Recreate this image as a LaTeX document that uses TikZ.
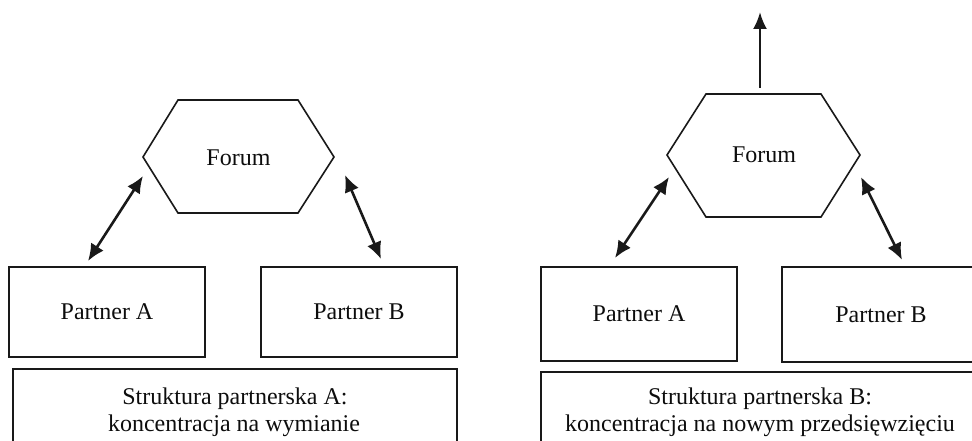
\documentclass[tikz,border=0pt]{standalone}
\usepackage{fontspec}
\setmainfont{Liberation Serif}
\usetikzlibrary{arrows.meta}
\begin{document}
\begin{tikzpicture}[x=1pt,y=-1pt,
  every node/.style={font=\fontsize{24}{27}\selectfont, text=black!95},
  partnerbox/.style={draw=black!90, line width=1.8pt, inner sep=0pt},
  shapeline/.style={draw=black!90, line width=1.6pt},
  link/.style={line width=2.6pt, draw=black!90, {Latex[length=17pt,width=15pt]}-{Latex[length=17pt,width=15pt]}},
  uplink/.style={line width=2.6pt, draw=black!90, -{Latex[length=17pt,width=14pt]}},
  lbl/.style={anchor=base, inner sep=0pt}]
\useasboundingbox (0,0) rectangle (972,441);

% ---------- left panel ----------
\draw[shapeline] (143,157) -- (178,100) -- (298,100) -- (334,157) -- (298,213) -- (178,213) -- cycle;
\node[lbl] (forumL) at (238.5,166) {Forum};
\node[partnerbox, minimum width=196pt, minimum height=90pt] (paL) at (107,312) {Partner A};
\node[partnerbox, minimum width=196pt, minimum height=90pt] (pbL) at (359,312) {Partner B};
\draw[line width=1.8pt, draw=black!90] (13,460) -- (13,369) -- (457,369) -- (457,460);
\node[lbl] (strL1) at (235,404) {Struktura partnerska A:};
\node[lbl] (strL2) at (234,431) {koncentracja na wymianie};

\coordinate (fLl) at (143,176);
\coordinate (aLl) at (88,261);
\coordinate (fLr) at (345,175);
\coordinate (bLr) at (381,259);
\draw[link] (aLl) -- (fLl);
\draw[link] (fLr) -- (bLr);

% ---------- right panel ----------
\draw[shapeline] (667,155) -- (706,94) -- (821,94) -- (860,155) -- (821,217) -- (706,217) -- cycle;
\node[lbl] (forumR) at (764,162) {Forum};
\node[partnerbox, minimum width=196pt, minimum height=94pt] (paR) at (639,314) {Partner A};
\node[partnerbox, minimum width=198pt, minimum height=95pt] (pbR) at (881,314.5) {Partner B};
\draw[line width=1.8pt, draw=black!90] (541,460) -- (541,372) -- (990,372);
\node[lbl] (strR1) at (760,404) {Struktura partnerska B:};
\node[lbl] (strR2) at (760,431) {koncentracja na nowym przedsięwzięciu};

\coordinate (fRtop) at (760,88);
\coordinate (outR) at (760,12);
\coordinate (fRl) at (669,177);
\coordinate (aRl) at (615,258);
\coordinate (fRr) at (861,177);
\coordinate (bRr) at (902,260);
\draw[uplink] (fRtop) -- (outR);
\draw[link] (aRl) -- (fRl);
\draw[link] (fRr) -- (bRr);
\end{tikzpicture}
\end{document}
